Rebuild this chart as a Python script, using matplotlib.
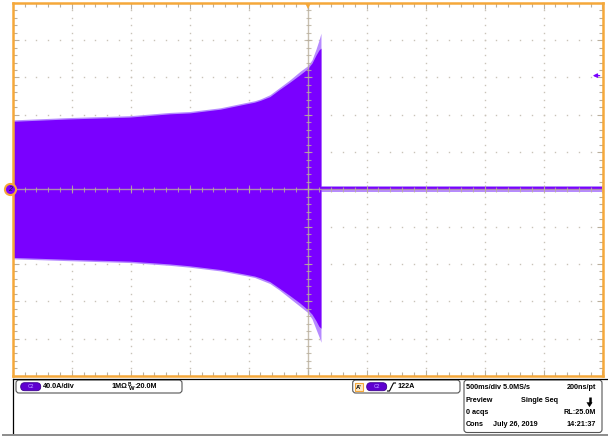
import matplotlib
matplotlib.use('Agg')
import matplotlib.pyplot as plt
import numpy as np
from matplotlib.patches import FancyBboxPatch, Rectangle

# ---------------- data ----------------
time_s = [-2.50, -2.03, -1.51, -1.17, -1.00, -0.74, -0.53, -0.45, -0.40, -0.32,
          -0.24, -0.15, -0.065, 0.0, 0.037, 0.071, 0.096, 0.113]
upper_a = [73, 75.5, 77.5, 81, 82, 86, 91.5, 93.5, 95.5, 99.5,
           107, 115, 123, 129.5, 135.5, 144, 149.5, 151.5]
upper_peak_a = [74.5, 77, 79, 82.5, 83.5, 87.5, 93, 95, 97, 101.5,
                109, 117.5, 126.5, 132.5, 139, 150.5, 160, 167.5]
lower_a = [-73, -75, -77, -80, -82, -86, -91, -93, -95, -99,
           -106, -114, -122, -129, -134, -141, -147, -149]
lower_peak_a = [-74.5, -76.5, -78.5, -81.5, -83.5, -87.5, -92.5, -94.5, -97, -101,
                -108, -117, -125.5, -132, -139, -150, -158, -164]
flat_time_s = [0.113, 2.50]
flat_hi_a = [2.8, 2.8]
flat_lo_a = [-1.2, -1.2]
flat_hi_peak_a = [4.0, 4.0]
flat_lo_peak_a = [-3.0, -3.0]

trigger_level_a = 122
volts_per_div = 40.0        # A/div
time_per_div = 0.5          # s/div
n_div_x = 10
n_div_y = 10

ch_label = "40.0A/div"
imp_label = "1M\u03a9"
bw_label = ":20.0M"
trig_label = "122A"
tb_rows = [("500ms/div 5.0MS/s", "200ns/pt"),
           ("Preview", ""),
           ("0 acqs", "RL:25.0M"),
           ("Cons", "14:21:37")]
date_label = "July 26, 2019"
mode_label = "Single Seq"

# ---------------- style ----------------
W, H = 608, 438
ORANGE = '#f5a83a'
PURPLE = '#7a00ff'
PURPLE_L = '#b68aff'
TAN = '#b9af9d'
DOT = '#c9c3b8'
FONT = ['Liberation Sans', 'DejaVu Sans']
plt.rcParams['font.family'] = FONT

fig = plt.figure(figsize=(W / 100, H / 100), dpi=100)
fig.patch.set_facecolor('white')

L, R, T, B = 12.8, 602.5, 2.9, 375.8
ax = fig.add_axes([L / W, (H - B) / H, (R - L) / W, (B - T) / H])
xmax = time_per_div * n_div_x / 2
ymax = volts_per_div * n_div_y / 2
ax.set_xlim(-xmax, xmax)
ax.set_ylim(-ymax, ymax)
ax.set_facecolor('white')

# trace
ax.fill_between(time_s, lower_peak_a, upper_peak_a, color=PURPLE_L, lw=0, zorder=2)
ax.fill_between(time_s, lower_a, upper_a, color=PURPLE, lw=0, zorder=2.1)
ax.fill_between(flat_time_s, flat_lo_peak_a, flat_hi_peak_a, color=PURPLE_L, lw=0, zorder=2)
ax.fill_between(flat_time_s, flat_lo_a, flat_hi_a, color=PURPLE, lw=0, zorder=2.1)

# graticule
xmaj = np.arange(-xmax, xmax + 1e-9, time_per_div)
ymaj = np.arange(-ymax, ymax + 1e-9, volts_per_div)
xmin_ = np.arange(-xmax, xmax + 1e-9, time_per_div / 5)
ymin_ = np.arange(-ymax, ymax + 1e-9, volts_per_div / 5)
for xv in xmaj[1:-1]:
    if abs(xv) < 1e-9:
        continue
    ax.plot(np.full_like(ymin_, xv), ymin_, ls='none', marker='s', ms=1.0,
            mew=0, color=DOT, zorder=1)
for yv in ymaj[1:-1]:
    if abs(yv) < 1e-9:
        continue
    ax.plot(xmin_, np.full_like(xmin_, yv), ls='none', marker='s', ms=1.0,
            mew=0, color=DOT, zorder=1)
ax.axhline(0, color=TAN, lw=1.0, alpha=0.8, zorder=4)
ax.axvline(0, color=TAN, lw=1.0, alpha=0.8, zorder=4)
ax.plot(xmin_, np.zeros_like(xmin_), ls='none', marker='|', ms=3.6, mew=0.8,
        color=TAN, alpha=0.8, zorder=4)
ax.plot(xmaj, np.zeros_like(xmaj), ls='none', marker='|', ms=5.5, mew=0.8,
        color=TAN, alpha=0.8, zorder=4)
ax.plot(np.zeros_like(ymin_), ymin_, ls='none', marker='_', ms=3.6, mew=0.8,
        color=TAN, alpha=0.8, zorder=4)
ax.plot(np.zeros_like(ymaj), ymaj, ls='none', marker='_', ms=5.5, mew=0.8,
        color=TAN, alpha=0.8, zorder=4)

ax.set_xticks(xmaj)
ax.set_yticks(ymaj)
ax.set_xticks(xmin_, minor=True)
ax.set_yticks(ymin_, minor=True)
ax.tick_params(which='both', direction='in', top=True, right=True,
               labelbottom=False, labelleft=False, color=TAN, width=0.8)
ax.tick_params(which='major', length=4.3)
ax.tick_params(which='minor', length=2.6)
for s in ax.spines.values():
    s.set_color(ORANGE)
    s.set_linewidth(1.8)
    s.set_zorder(6)

px_t = (2 * xmax) / (R - L)
px_a = (2 * ymax) / (B - T)

# trigger position marker (top)
ax.plot([0], [ymax - 2.6 * px_a], marker='v', ms=5.0, color=ORANGE, mew=0,
        clip_on=False, zorder=7)
# trigger level arrow (right)
ax.annotate('', xy=(xmax - 12.5 * px_t, trigger_level_a), xytext=(xmax, trigger_level_a),
            arrowprops=dict(arrowstyle='-|>', color=PURPLE, lw=0.9, mutation_scale=6),
            annotation_clip=False, zorder=7)
# channel ground marker (left)
ax.plot([-xmax - 3.3 * px_t], [0], marker='o', ms=8.0, mfc=PURPLE, mec=ORANGE,
        mew=1.5, clip_on=False, zorder=8)
ax.text(-xmax - 3.3 * px_t, 0, '2', fontsize=5, ha='center', va='center',
        color='#222222', style='italic', clip_on=False, zorder=9)

# ---------------- info panel (pixel coordinates) ----------------
ov = fig.add_axes([0, 0, 1, 1])
ov.set_xlim(0, W)
ov.set_ylim(H, 0)
ov.axis('off')
ov.patch.set_alpha(0)

ov.plot([13, W], [379, 379], color='black', lw=0.9)
ov.plot([13, 13], [379, 434], color='black', lw=0.9)
ov.plot([3, W], [434.5, 434.5], color='#8c8c8c', lw=1.4)

def rbox(x, y, w, h, r=3, ec='#555555', fc='white', lw=0.8):
    ov.add_patch(FancyBboxPatch((x, y), w, h, boxstyle=f'round,pad=0,rounding_size={r}',
                                fc=fc, ec=ec, lw=lw))

def pill(x, y):
    rbox(x, y, 20, 8, r=4, ec='#3c0090', fc='#5f00d0', lw=0.6)
    ov.text(x + 10, y + 4.2, 'C2', fontsize=3.6, color='#a678ff', ha='center',
            va='center', weight='bold')

fs = 5.2
# channel box
rbox(16, 380, 166, 13)
pill(20.7, 382.7)
ov.text(42.5, 387, ch_label, fontsize=fs, weight='bold', va='center')
ov.text(111, 387, imp_label, fontsize=fs, weight='bold', va='center')
ov.text(128, 384.5, 'B', fontsize=3.4, weight='bold', va='center')
ov.text(129.3, 388.5, 'W', fontsize=4.2, weight='bold', va='center')
ov.text(134, 387, bw_label, fontsize=fs, weight='bold', va='center')

# trigger box
rbox(352.7, 380, 107.3, 13)
ov.add_patch(Rectangle((355, 382.8), 8, 8.6, fc='#fde9c8', ec=ORANGE, lw=0.8))
ov.text(359, 387.2, "A'", fontsize=4.2, weight='bold', ha='center', va='center')
pill(366.7, 382.7)
ov.plot([387.5, 389.5, 393.5, 395.5], [391, 391, 383, 383], color='black', lw=0.8)
ov.text(397.5, 387, trig_label, fontsize=fs, weight='bold', va='center')

# timebase box
rbox(464, 380, 138, 52.5)
row_y = [387.7, 400.5, 412.5, 424.5]
for (lt, rt), yy in zip(tb_rows, row_y):
    ov.text(466, yy, lt, fontsize=fs, weight='bold', va='center')
    if rt:
        ov.text(596, yy, rt, fontsize=fs, weight='bold', va='center', ha='right')
ov.text(521, row_y[1], mode_label, fontsize=fs, weight='bold', va='center')
ov.text(493.3, row_y[3], date_label, fontsize=fs, weight='bold', va='center')
ov.plot([589.5, 589.5], [396.5, 403], color='black', lw=1.8, solid_capstyle='butt')
ov.add_patch(plt.Polygon([[586.8, 402.5], [592.2, 402.5], [589.5, 406.8]],
                         closed=True, fc='black', ec='black', lw=0.3))

fig.savefig('out.png', dpi=100, facecolor='white')
